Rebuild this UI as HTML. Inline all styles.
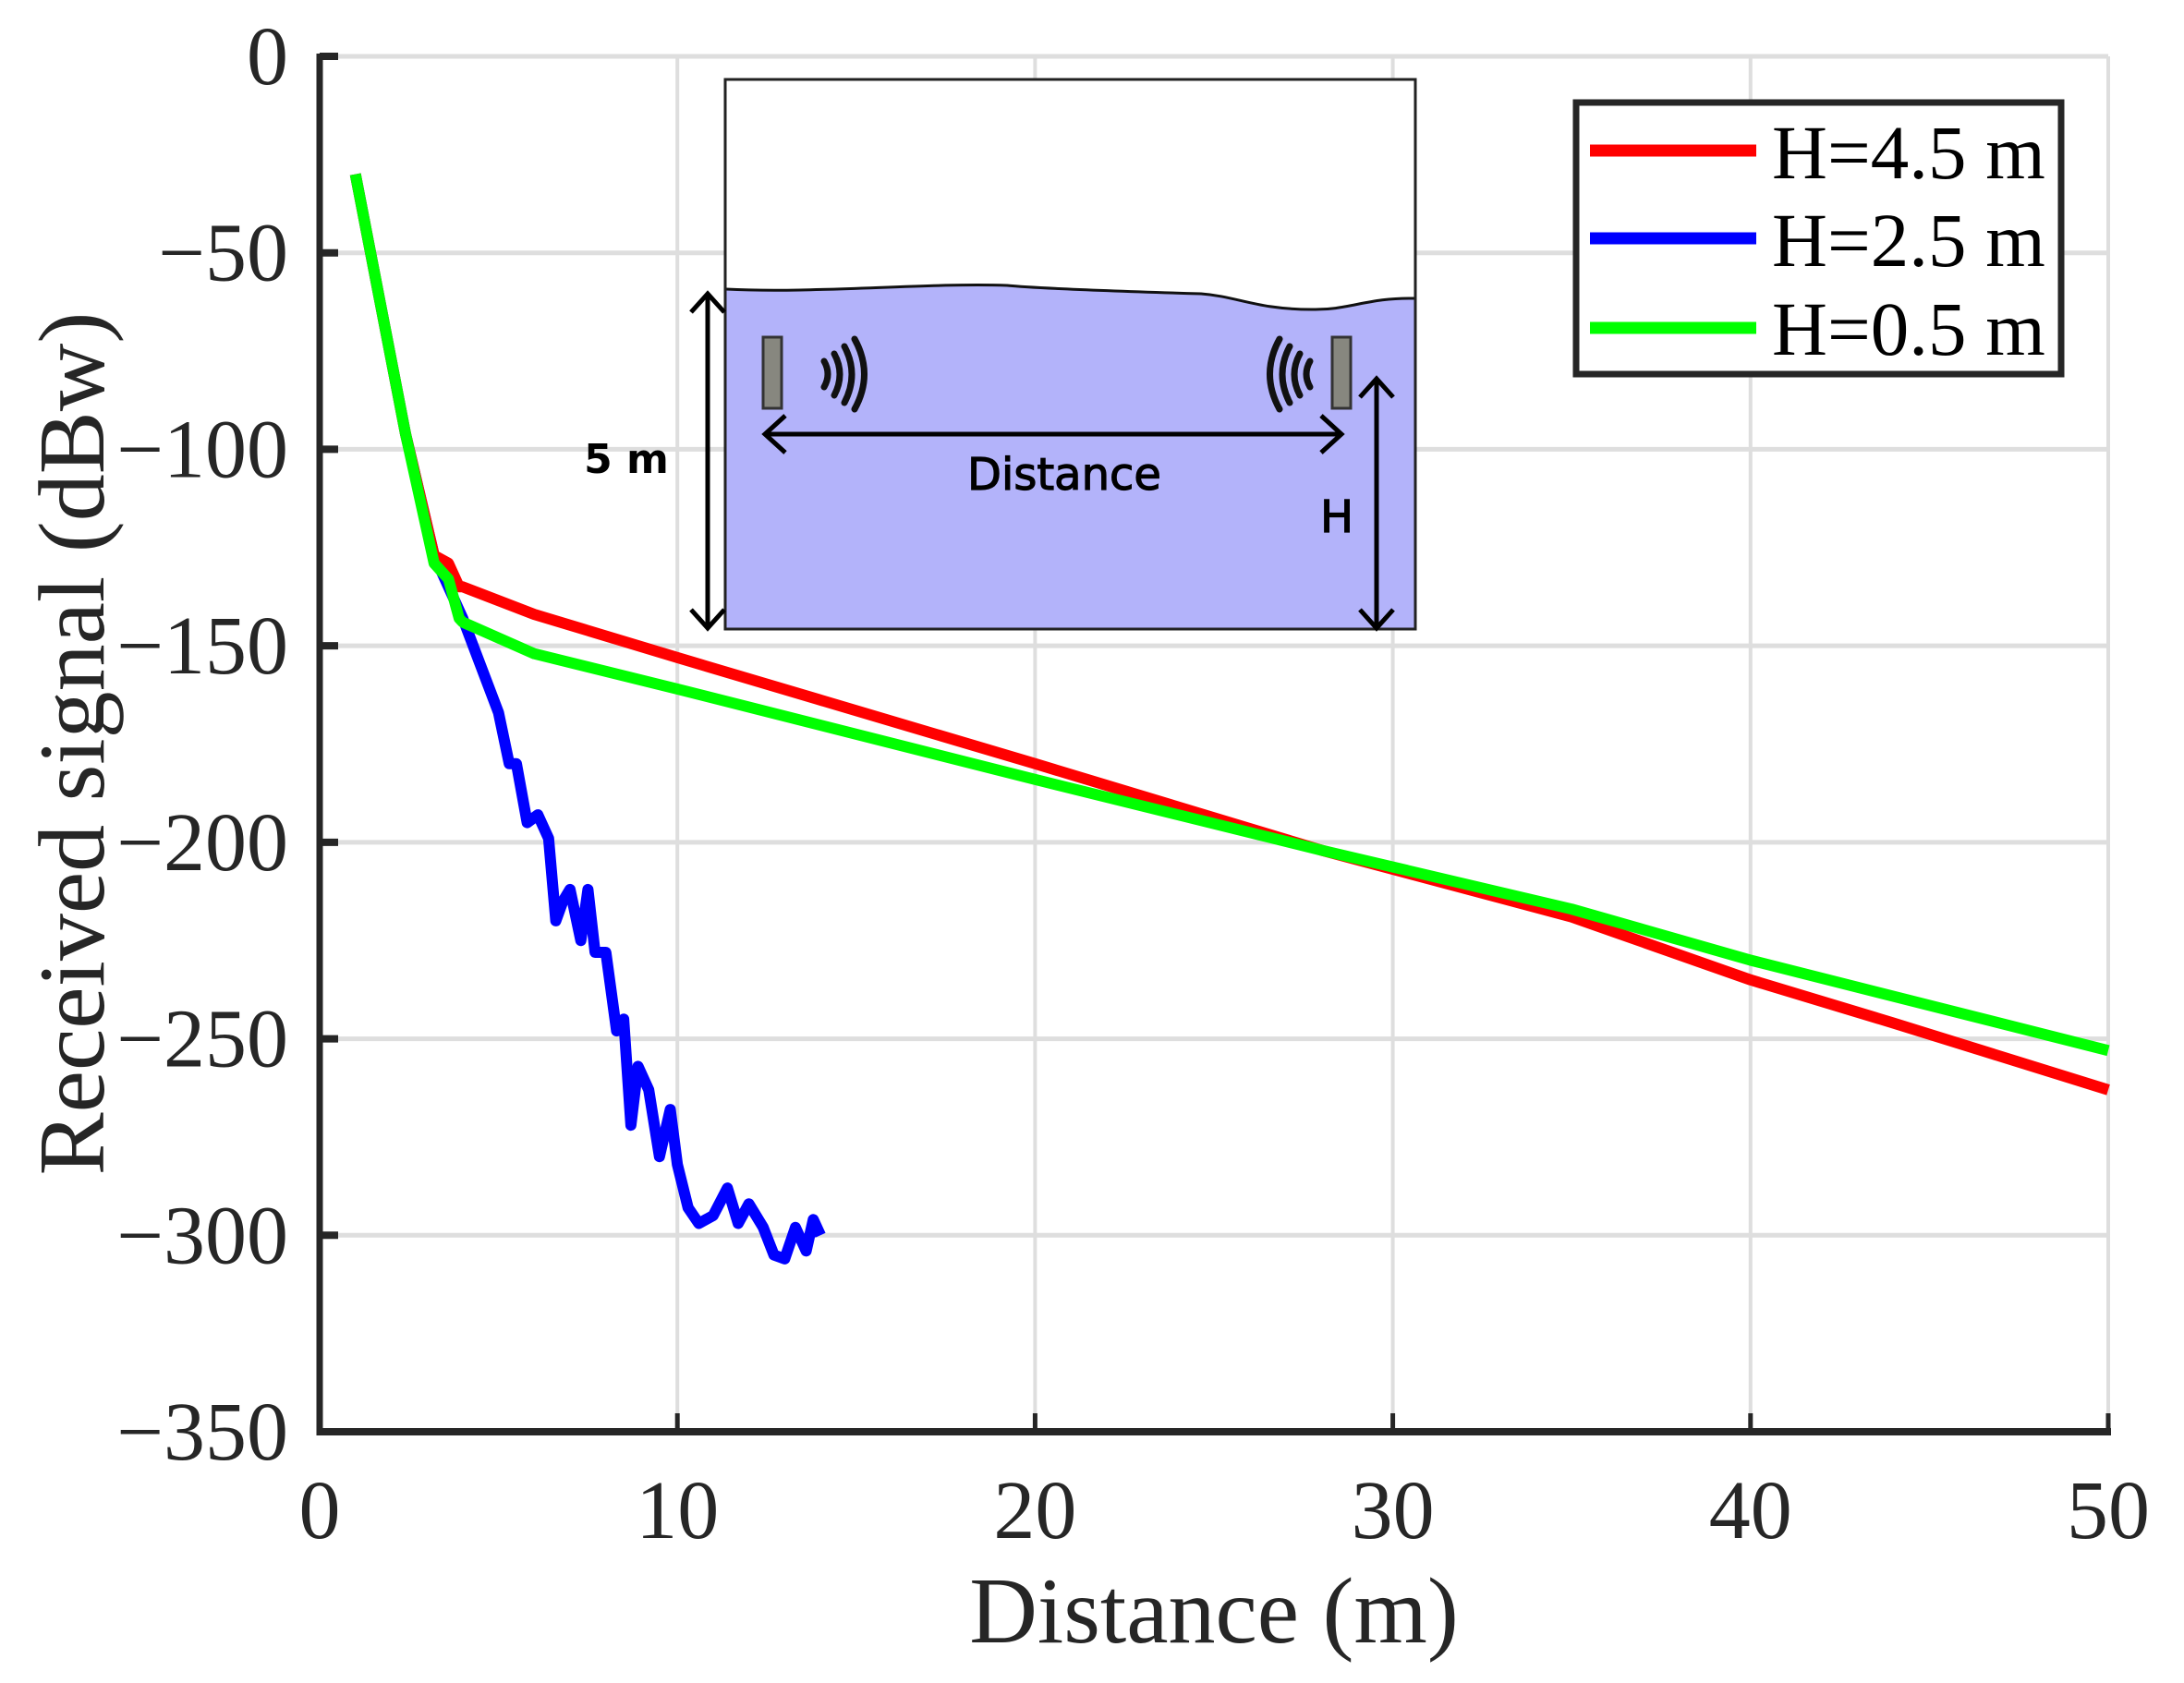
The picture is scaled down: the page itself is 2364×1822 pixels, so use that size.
<!DOCTYPE html>
<html><head><meta charset="utf-8">
<style>
html,body{margin:0;padding:0;background:#fff;}
svg{display:block;}
</style></head>
<body>
<svg id="chart" xmlns="http://www.w3.org/2000/svg" width="2364" height="1822" viewBox="0 0 2364 1822">
<g id="grid"></g>
<g id="series"></g>
<g id="axes"></g>
<g id="inset">
  <rect x="785" y="86" width="747" height="595" fill="#fff" stroke="#222" stroke-width="3"/>
  <path d="M786 313 C 880 318, 1000 306, 1090 309 C 1120 312, 1200 315, 1300 318 C 1340 321, 1360 335, 1420 335 C 1460 336, 1480 322, 1531 323 L 1531 680 L 786 680 Z" fill="#b3b3fa"/>
  <path d="M786 313 C 880 318, 1000 306, 1090 309 C 1120 312, 1200 315, 1300 318 C 1340 321, 1360 335, 1420 335 C 1460 336, 1480 322, 1531 323" fill="none" stroke="#111" stroke-width="3"/>
  <rect x="785" y="86" width="747" height="595" fill="none" stroke="#222" stroke-width="3"/>
  <rect x="826" y="365" width="20" height="77" fill="#87877f" stroke="#333" stroke-width="3"/>
  <rect x="1442" y="365" width="20" height="77" fill="#87877f" stroke="#333" stroke-width="3"/>
  <g fill="none" stroke="#111" stroke-width="7" stroke-linecap="round">
    <path d="M892 391 Q900 405 892 419"/><path d="M903 383 Q915 405 903 428"/><path d="M914 375 Q930 405 914 436"/><path d="M925 367 Q946 405 925 443"/>
  </g>
  <g fill="none" stroke="#111" stroke-width="7" stroke-linecap="round">
    <path d="M1418 391 Q1410 405 1418 419"/><path d="M1407 383 Q1395 405 1407 428"/><path d="M1396 375 Q1380 405 1396 436"/><path d="M1385 367 Q1364 405 1385 443"/>
  </g>
  <g stroke="#000" stroke-width="5" fill="none">
    <line x1="828" y1="470" x2="1452" y2="470"/>
    <polyline points="850,450 828,470 850,490"/><polyline points="1430,450 1452,470 1430,490"/>
  </g>
  <text x="1152" y="530" font-family="DejaVu Sans, sans-serif" font-size="48" text-anchor="middle" fill="#000" stroke="#000" stroke-width="1.2">Distance</text>
  <g stroke="#000" stroke-width="5" fill="none">
    <line x1="1490" y1="410" x2="1490" y2="680"/>
    <polyline points="1472,430 1490,410 1508,430"/><polyline points="1472,660 1490,680 1508,660"/>
  </g>
  <text x="1447" y="576" font-family="DejaVu Sans, sans-serif" font-size="48" text-anchor="middle" fill="#000" stroke="#000" stroke-width="1.2">H</text>
  <g stroke="#000" stroke-width="5" fill="none">
    <line x1="766" y1="318" x2="766" y2="680"/>
    <polyline points="748,338 766,318 784,338"/><polyline points="748,660 766,680 784,660"/>
  </g>
  <text x="678" y="512" font-family="DejaVu Sans, sans-serif" font-size="44" font-weight="bold" text-anchor="middle" fill="#000">5 m</text>
</g>
<g id="legend">
  <rect x="1706" y="111" width="525" height="294" fill="#fff" stroke="#262626" stroke-width="7"/>
  <line x1="1721" y1="163" x2="1901" y2="163" stroke="#ff0000" stroke-width="13"/>
  <text x="1918" y="193" font-family="Liberation Serif, serif" font-size="83" fill="#000">H=4.5 m</text>
  <line x1="1721" y1="258" x2="1901" y2="258" stroke="#0000ff" stroke-width="13"/>
  <text x="1918" y="288" font-family="Liberation Serif, serif" font-size="83" fill="#000">H=2.5 m</text>
  <line x1="1721" y1="355" x2="1901" y2="355" stroke="#00ff00" stroke-width="13"/>
  <text x="1918" y="384" font-family="Liberation Serif, serif" font-size="83" fill="#000">H=0.5 m</text>
</g>
</svg>
<script>
const xTicks = [0, 10, 20, 30, 40, 50];
const yTicks = [0, -50, -100, -150, -200, -250, -300, -350];
const yTickLabels = ["0", "\u221250", "\u2212100", "\u2212150", "\u2212200", "\u2212250", "\u2212300", "\u2212350"];
const redX = [1, 2.4, 3.2, 3.6, 3.9, 4, 6, 10, 20, 28, 35, 40, 44, 50];
const redY = [-30, -96, -127, -129, -135, -135, -142, -153, -180, -202, -219, -235, -246, -263];
const greenX = [1, 2.4, 3.2, 3.4, 3.6, 3.9, 4, 6, 10, 20, 28, 35, 40, 50];
const greenY = [-30, -96, -129, -131, -133, -143, -144, -152, -161, -184, -202, -217, -230, -253];
const blueX = [1, 2.4, 3.2, 3.5, 4, 4.5, 5, 5.3, 5.5, 5.8, 6.1, 6.4, 6.6, 6.8, 7, 7.3, 7.5, 7.7, 8, 8.3, 8.5, 8.7, 8.9, 9.2, 9.5, 9.8, 10, 10.3, 10.6, 11, 11.4, 11.7, 12, 12.4, 12.7, 13, 13.3, 13.6, 13.8, 14];
const blueY = [-30, -96, -127, -133, -143, -155, -167, -180, -180, -195, -193, -199, -220, -215, -212, -225, -212, -228, -228, -248, -245, -272, -257, -263, -280, -268, -282, -293, -297, -295, -288, -297, -292, -298, -305, -306, -298, -304, -296, -300];

const X0 = 346, X1 = 2282, Y0 = 61, Y1 = 1550;
const xs = v => X0 + (v - 0) / 50 * (X1 - X0);
const ys = v => Y0 + (0 - v) / 350 * (Y1 - Y0);
const NS = "http://www.w3.org/2000/svg";
function mk(tag, attrs, parent) {
  const e = document.createElementNS(NS, tag);
  for (const k in attrs) e.setAttribute(k, attrs[k]);
  parent.appendChild(e);
  return e;
}
const grid = document.getElementById('grid');
const axes = document.getElementById('axes');
const series = document.getElementById('series');

xTicks.forEach(t => {
  if (t === 0) return;
  const l = mk('line', {x1: xs(t), x2: xs(t), y1: Y0, y2: Y1, stroke: '#dedede', 'stroke-width': 4}, grid);
  
  
});
yTicks.forEach(t => {
  if (t === -350) return;
  const l = mk('line', {x1: X0, x2: X1, y1: ys(t), y2: ys(t), stroke: '#dedede', 'stroke-width': 5}, grid);
  
  
});

function drawSeries(X, Y, color, name) {
  const pts = X.map((x, i) => xs(x).toFixed(1) + ',' + ys(Y[i]).toFixed(1)).join(' ');
  const p = mk('polyline', {points: pts, fill: 'none', stroke: color, 'stroke-width': 12, 'stroke-linejoin': 'round'}, series);
  
  
}
drawSeries(blueX, blueY, '#0000ff', 'series-h25');
drawSeries(redX, redY, '#ff0000', 'series-h45');
drawSeries(greenX, greenY, '#00ff00', 'series-h05');

const ya = mk('line', {x1: X0, x2: X0, y1: Y0 - 3, y2: Y1 + 4, stroke: '#262626', 'stroke-width': 7}, axes);


const xa = mk('line', {x1: X0 - 3, x2: X1 + 3, y1: Y1, y2: Y1, stroke: '#262626', 'stroke-width': 8}, axes);



xTicks.forEach(t => {
  const tk = mk('line', {x1: xs(t), x2: xs(t), y1: Y1, y2: Y1 - 20, stroke: '#262626', 'stroke-width': 5}, axes);
  
  
  const tx = mk('text', {x: xs(t), y: 1665, 'font-family': 'Liberation Serif, serif', 'font-size': 90, 'text-anchor': 'middle', fill: '#262626'}, axes);
  tx.textContent = String(t);
  
  
});
yTicks.forEach((t, i) => {
  const tk = mk('line', {x1: X0, x2: X0 + 20, y1: ys(t), y2: ys(t), stroke: '#262626', 'stroke-width': 8}, axes);
  
  
  const tx = mk('text', {x: 312, y: ys(t) + 30, 'font-family': 'Liberation Serif, serif', 'font-size': 90, 'text-anchor': 'end', fill: '#262626'}, axes);
  tx.textContent = yTickLabels[i];
  
  
});
const xt = mk('text', {x: 1314, y: 1778, 'font-family': 'Liberation Serif, serif', 'font-size': 102, 'text-anchor': 'middle', fill: '#262626'}, axes);
xt.textContent = 'Distance (m)';


const yt = mk('text', {x: 0, y: 0, transform: 'translate(112 810) rotate(-90)', 'font-family': 'Liberation Serif, serif', 'font-size': 102, 'text-anchor': 'middle', fill: '#262626'}, axes);
yt.setAttribute('transform', 'translate(112 805) rotate(-90)');
yt.textContent = 'Received signal (dBw)';


</script>
</body></html>
